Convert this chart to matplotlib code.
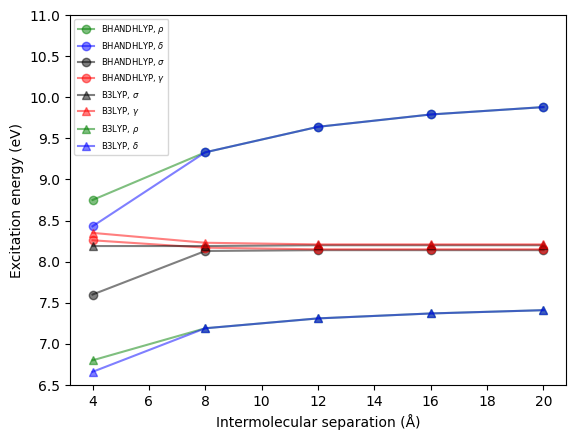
import matplotlib
matplotlib.use('Agg')
import matplotlib.pyplot as plt
import numpy as np

sep = [4, 8, 12, 16, 20]

bh_rho = [8.75, 9.33, 9.64, 9.79, 9.88]
bh_delta = [8.43, 9.33, 9.64, 9.79, 9.88]
bh_sigma = [7.60, 8.13, 8.14, 8.14, 8.14]
bh_gamma = [8.26, 8.17, 8.15, 8.15, 8.15]
b3_sigma = [8.19, 8.19, 8.20, 8.20, 8.20]
b3_gamma = [8.35, 8.23, 8.21, 8.21, 8.21]
b3_rho = [6.80, 7.19, 7.31, 7.37, 7.41]
b3_delta = [6.66, 7.19, 7.31, 7.37, 7.41]

fig = plt.figure(figsize=(5.76, 4.4), dpi=100)
ax = fig.add_axes([70/576, 1-385/440, (566-70)/576, (385-15)/440])

ax.plot(sep, bh_rho, 'o-', color='green', alpha=0.5, label=r'BHANDHLYP, $\rho$')
ax.plot(sep, bh_delta, 'o-', color='blue', alpha=0.5, label=r'BHANDHLYP, $\delta$')
ax.plot(sep, bh_sigma, 'o-', color='black', alpha=0.5, label=r'BHANDHLYP, $\sigma$')
ax.plot(sep, bh_gamma, 'o-', color='red', alpha=0.5, label=r'BHANDHLYP, $\gamma$')
ax.plot(sep, b3_sigma, '^-', color='black', alpha=0.5, label=r'B3LYP, $\sigma$')
ax.plot(sep, b3_gamma, '^-', color='red', alpha=0.5, label=r'B3LYP, $\gamma$')
ax.plot(sep, b3_rho, '^-', color='green', alpha=0.5, label=r'B3LYP, $\rho$')
ax.plot(sep, b3_delta, '^-', color='blue', alpha=0.5, label=r'B3LYP, $\delta$')

ax.set_ylim(6.5, 11.0)
ax.set_xticks([4, 6, 8, 10, 12, 14, 16, 18, 20])
ax.set_xlabel('Intermolecular separation (Å)')
ax.set_ylabel('Excitation energy (eV)')
ax.legend(loc='upper left', fontsize=6)

fig.savefig('out.png', dpi=100)
